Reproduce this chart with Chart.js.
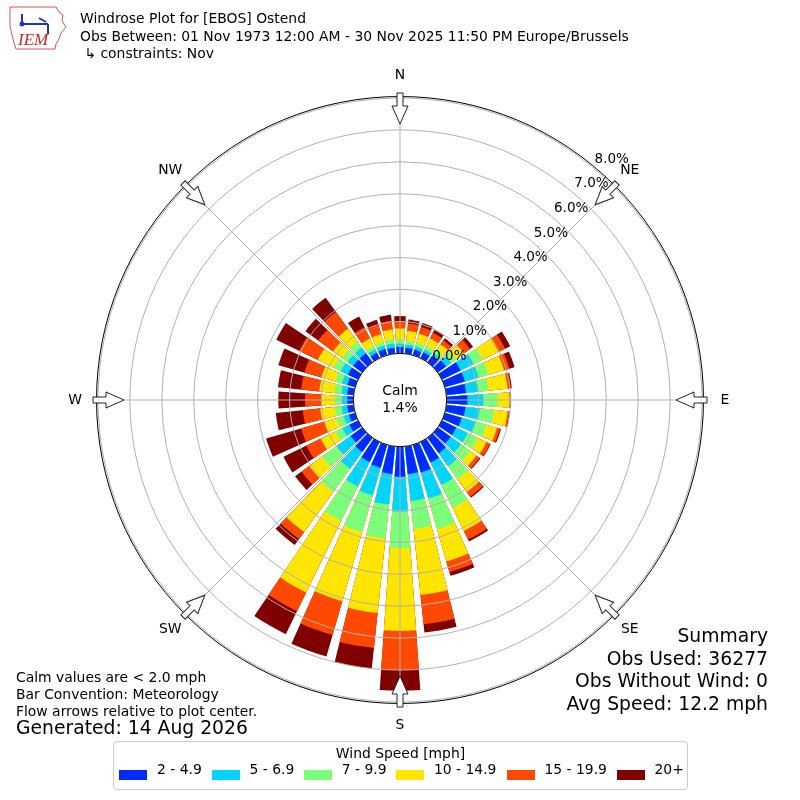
<!DOCTYPE html>
<html><head><meta charset="utf-8">
<script src="https://cdn.jsdelivr.net/npm/chart.js@4.4.1/dist/chart.umd.min.js"></script>
<style>
html,body{margin:0;padding:0;background:#fff;}
#wrap{position:relative;width:800px;height:800px;overflow:hidden;font-family:"DejaVu Sans",sans-serif;color:#000;}
#c{position:absolute;left:0;top:0;}
.t{position:absolute;white-space:pre;line-height:1;}
.s{font-size:13.9px;}
.b{font-size:18.75px;}
#legend{position:absolute;left:113px;top:741px;width:573px;height:47px;border:1px solid #cccccc;border-radius:4px;background:#fff;}
.patch{position:absolute;width:28px;height:10px;top:28px;}
.lt{position:absolute;white-space:pre;line-height:1;font-size:13.9px;top:21px;}
</style></head><body>
<div id="wrap">
<canvas id="c" width="800" height="800"></canvas>
<svg style="position:absolute;left:6px;top:4px" width="64" height="48">
  <path d="M4,3 L50,3 L53,8 L57,11 L56,17 L60,23 L55,29 L53,35 L50,40 L49,45 L10,45 L8,39 L6,31 L4,22 Z" fill="none" stroke="#e05050" stroke-width="1"/>
  <g stroke="#2233cc" stroke-width="2" fill="none">
    <line x1="16" y1="20" x2="42" y2="20"/>
    <line x1="42" y1="20" x2="42" y2="30"/>
    <line x1="33" y1="14" x2="40" y2="18"/>
    <line x1="16" y1="10" x2="16" y2="20"/>
  </g>
  <circle cx="16" cy="20" r="2.5" fill="#2233cc"/>
  <text x="12" y="41" font-family="Liberation Serif" font-style="italic" font-size="17" fill="#d42020">IEM</text>
</svg>
<div class="t s" style="left:80px;top:12.2px">Windrose Plot for [EBOS] Ostend</div>
<div class="t s" style="left:80px;top:29.7px">Obs Between: 01 Nov 1973 12:00 AM - 30 Nov 2025 11:50 PM Europe/Brussels</div>
<div class="t s" style="left:80px;top:47.2px"> ↳ constraints: Nov</div>

<div class="t s" style="left:16px;top:671.2px">Calm values are &lt; 2.0 mph</div>
<div class="t s" style="left:16px;top:688.2px">Bar Convention: Meteorology</div>
<div class="t s" style="left:16px;top:704.7px">Flow arrows relative to plot center.</div>
<div class="t b" style="left:16px;top:719.1px">Generated: 14 Aug 2026</div>

<div class="t b" style="right:32px;top:627.1px;text-align:right">Summary</div>
<div class="t b" style="right:32px;top:649.6px;text-align:right">Obs Used: 36277</div>
<div class="t b" style="right:32px;top:672.1px;text-align:right">Obs Without Wind: 0</div>
<div class="t b" style="right:32px;top:694.6px;text-align:right">Avg Speed: 12.2 mph</div>

<div id="legend"></div>
</div>
<script>
// ---- data (percent of observations per direction / speed bin) ----
const directions = [0,10,20,30,40,50,60,70,80,90,100,110,120,130,140,150,160,170,180,190,200,210,220,230,240,250,260,270,280,290,300,310,320,330,340,350];
const speedBins = ['2 - 4.9','5 - 6.9','7 - 9.9','10 - 14.9','15 - 19.9','20+'];
const binColors = ['#002bff','#00d4ff','#7bff7b','#ffe500','#ff4900','#800000'];
const pct_2_5   = [0.20,0.18,0.18,0.20,0.25,0.32,0.65,0.65,0.62,0.65,0.60,0.55,0.50,0.50,0.60,0.72,0.90,0.87,0.94,0.87,0.75,0.70,0.55,0.45,0.30,0.20,0.20,0.19,0.20,0.25,0.35,0.35,0.35,0.18,0.20,0.18];
const pct_5_7   = [0.10,0.10,0.10,0.10,0.10,0.20,0.45,0.45,0.38,0.50,0.45,0.45,0.40,0.40,0.50,0.78,0.85,0.85,1.09,0.96,0.90,0.85,0.65,0.55,0.25,0.17,0.18,0.17,0.18,0.18,0.25,0.22,0.22,0.12,0.11,0.14];
const pct_7_10  = [0.13,0.12,0.12,0.12,0.13,0.18,0.32,0.32,0.32,0.45,0.45,0.35,0.35,0.35,0.50,0.80,1.00,0.88,1.15,1.07,1.20,1.20,0.90,0.55,0.25,0.23,0.22,0.21,0.22,0.22,0.25,0.21,0.23,0.12,0.11,0.13];
const pct_10_15 = [0.35,0.32,0.30,0.26,0.22,0.32,0.55,0.51,0.61,0.37,0.43,0.35,0.30,0.25,0.50,0.80,1.05,2.08,2.59,2.35,2.25,2.50,1.55,0.50,0.50,0.40,0.45,0.42,0.48,0.45,0.55,0.35,0.50,0.26,0.26,0.31];
const pct_15_20 = [0.22,0.23,0.22,0.20,0.15,0.23,0.23,0.17,0.10,0.03,0.05,0.10,0.13,0.12,0.18,0.30,0.35,0.92,1.23,1.10,1.10,0.65,0.27,0.30,0.50,0.76,0.55,0.52,0.57,0.55,0.65,0.57,0.65,0.39,0.30,0.27];
const pct_20p   = [0.17,0.12,0.13,0.10,0.08,0.12,0.18,0.17,0.03,0.02,0.02,0.03,0.02,0.03,0.04,0.07,0.12,0.26,0.65,0.65,0.70,0.80,0.23,0.25,0.80,1.14,0.85,0.84,0.73,0.85,0.80,0.50,0.55,0.38,0.17,0.19];
const radialTicks = [0,1,2,3,4,5,6,7,8];
const compassNames = ['N','NE','E','SE','S','SW','W','NW'];
const compassDeg = [0,45,90,135,180,225,270,315];
const calmPct = 1.4;

// ---- layout constants ----
const BAR_DEG = 8, GAP_DEG = 2;
const R_MAX = 8;
const R_MIN = -1.463;          // leaves the calm hole in the middle
const TICK_LABEL_DEG = 39.5;

const bins = [pct_2_5, pct_5_7, pct_7_10, pct_10_15, pct_15_20, pct_20p];

// stack the bins (cumulative per direction), with an empty gap element after every bar
const datasets = bins.map((arr, k) => {
  const data = [];
  directions.forEach((d, i) => {
    let cum = 0;
    for (let j = 0; j <= k; j++) cum += bins[j][i];
    data.push(+cum.toFixed(3));
    data.push(null);
  });
  return {
    label: speedBins[k],
    data,
    backgroundColor: binColors[k],
    borderWidth: 0,
    angle: (c) => (c.dataIndex % 2 === 0 ? BAR_DEG : GAP_DEG)
  };
});
const labels = directions.flatMap(d => [d + '°', '']);

const FONT = '"DejaVu Sans", sans-serif';

const windrose = {
  id: 'windrose',
  afterDatasetsDraw(chart) {
    const s = chart.scales.r, ctx = chart.ctx;
    const R = s.getDistanceFromCenterForValue(R_MAX);
    ctx.save();
    ctx.strokeStyle = '#b0b0b0';
    ctx.lineWidth = 1;
    compassDeg.forEach(a => {
      const t = a * Math.PI / 180;
      ctx.beginPath();
      ctx.moveTo(s.xCenter, s.yCenter);
      ctx.lineTo(s.xCenter + R * Math.sin(t), s.yCenter - R * Math.cos(t));
      ctx.stroke();
    });
    ctx.restore();
  },
  afterDraw(chart) {
    const s = chart.scales.r, ctx = chart.ctx;
    const cx = s.xCenter, cy = s.yCenter;
    const R = s.getDistanceFromCenterForValue(R_MAX);
    const r0 = s.getDistanceFromCenterForValue(0);
    ctx.save();
    // outer spine
    ctx.strokeStyle = '#000';
    ctx.lineWidth = 1;
    ctx.beginPath(); ctx.arc(cx, cy, R + 1.5, 0, Math.PI * 2); ctx.stroke();
    // calm circle
    ctx.fillStyle = '#fff';
    ctx.beginPath(); ctx.arc(cx, cy, r0, 0, Math.PI * 2); ctx.fill(); ctx.stroke();
    ctx.fillStyle = '#000';
    ctx.font = '13.9px ' + FONT;
    ctx.textAlign = 'center'; ctx.textBaseline = 'middle';
    ctx.fillText('Calm', cx, cy - 9);
    ctx.fillText(calmPct.toFixed(1) + '%', cx, cy + 8);
    // radial tick labels
    ctx.font = '13.5px ' + FONT;
    ctx.textAlign = 'left'; ctx.textBaseline = 'alphabetic';
    const ta = TICK_LABEL_DEG * Math.PI / 180;
    radialTicks.forEach(v => {
      const r = s.getDistanceFromCenterForValue(v);
      ctx.fillText(v.toFixed(1) + '%', cx + r * Math.sin(ta) + 2.5, cy - r * Math.cos(ta) - 4.3);
    });
    // compass arrows + labels
    compassDeg.forEach((a, i) => {
      const t = a * Math.PI / 180;
      ctx.save();
      ctx.translate(cx, cy); ctx.rotate(t);
      const tail = R + 5, base = R - 8, tip = R - 26;
      ctx.beginPath();
      ctx.moveTo(-3, -tail); ctx.lineTo(3, -tail); ctx.lineTo(3, -base); ctx.lineTo(8, -base);
      ctx.lineTo(0, -tip); ctx.lineTo(-8, -base); ctx.lineTo(-3, -base); ctx.closePath();
      ctx.fillStyle = '#fff'; ctx.fill();
      ctx.strokeStyle = '#222'; ctx.lineWidth = 1; ctx.stroke();
      ctx.restore();
      const lr = R + 23;
      ctx.fillStyle = '#000';
      ctx.font = '13.9px ' + FONT;
      ctx.textAlign = 'center'; ctx.textBaseline = 'middle';
      ctx.fillText(compassNames[i], cx + lr * Math.sin(t), cy - lr * Math.cos(t));
    });
    ctx.restore();
  }
};

new Chart(document.getElementById('c'), {
  type: 'polarArea',
  data: { labels, datasets },
  options: {
    responsive: false,
    animation: false,
    events: [],
    layout: { padding: 98 },
    plugins: { legend: { display: false }, tooltip: { enabled: false } },
    scales: {
      r: {
        min: R_MIN, max: R_MAX,
        startAngle: -BAR_DEG / 2,
        ticks: { display: false, stepSize: 1 },
        grid: {
          circular: true, z: 1, lineWidth: 1,
          color: (c) => (c.tick && c.tick.value >= 0 ? '#b0b0b0' : 'rgba(0,0,0,0)')
        },
        angleLines: { display: false },
        pointLabels: { display: false }
      }
    }
  },
  plugins: [windrose]
});

// ---- legend (HTML) ----
const legend = document.getElementById('legend');
const lgTitle = document.createElement('div');
lgTitle.className = 'lt';
lgTitle.style.top = '5px'; lgTitle.style.left = '0'; lgTitle.style.width = '100%'; lgTitle.style.textAlign = 'center';
lgTitle.textContent = 'Wind Speed [mph]';
legend.appendChild(lgTitle);
const patchX = [5, 97.5, 189.8, 282, 392.5, 502.5];
speedBins.forEach((b, k) => {
  const p = document.createElement('div');
  p.className = 'patch'; p.style.left = patchX[k] + 'px'; p.style.background = binColors[k];
  legend.appendChild(p);
  const t = document.createElement('div');
  t.className = 'lt'; t.style.left = (patchX[k] + 38) + 'px';
  t.textContent = b;
  legend.appendChild(t);
});
</script>
</body></html>
